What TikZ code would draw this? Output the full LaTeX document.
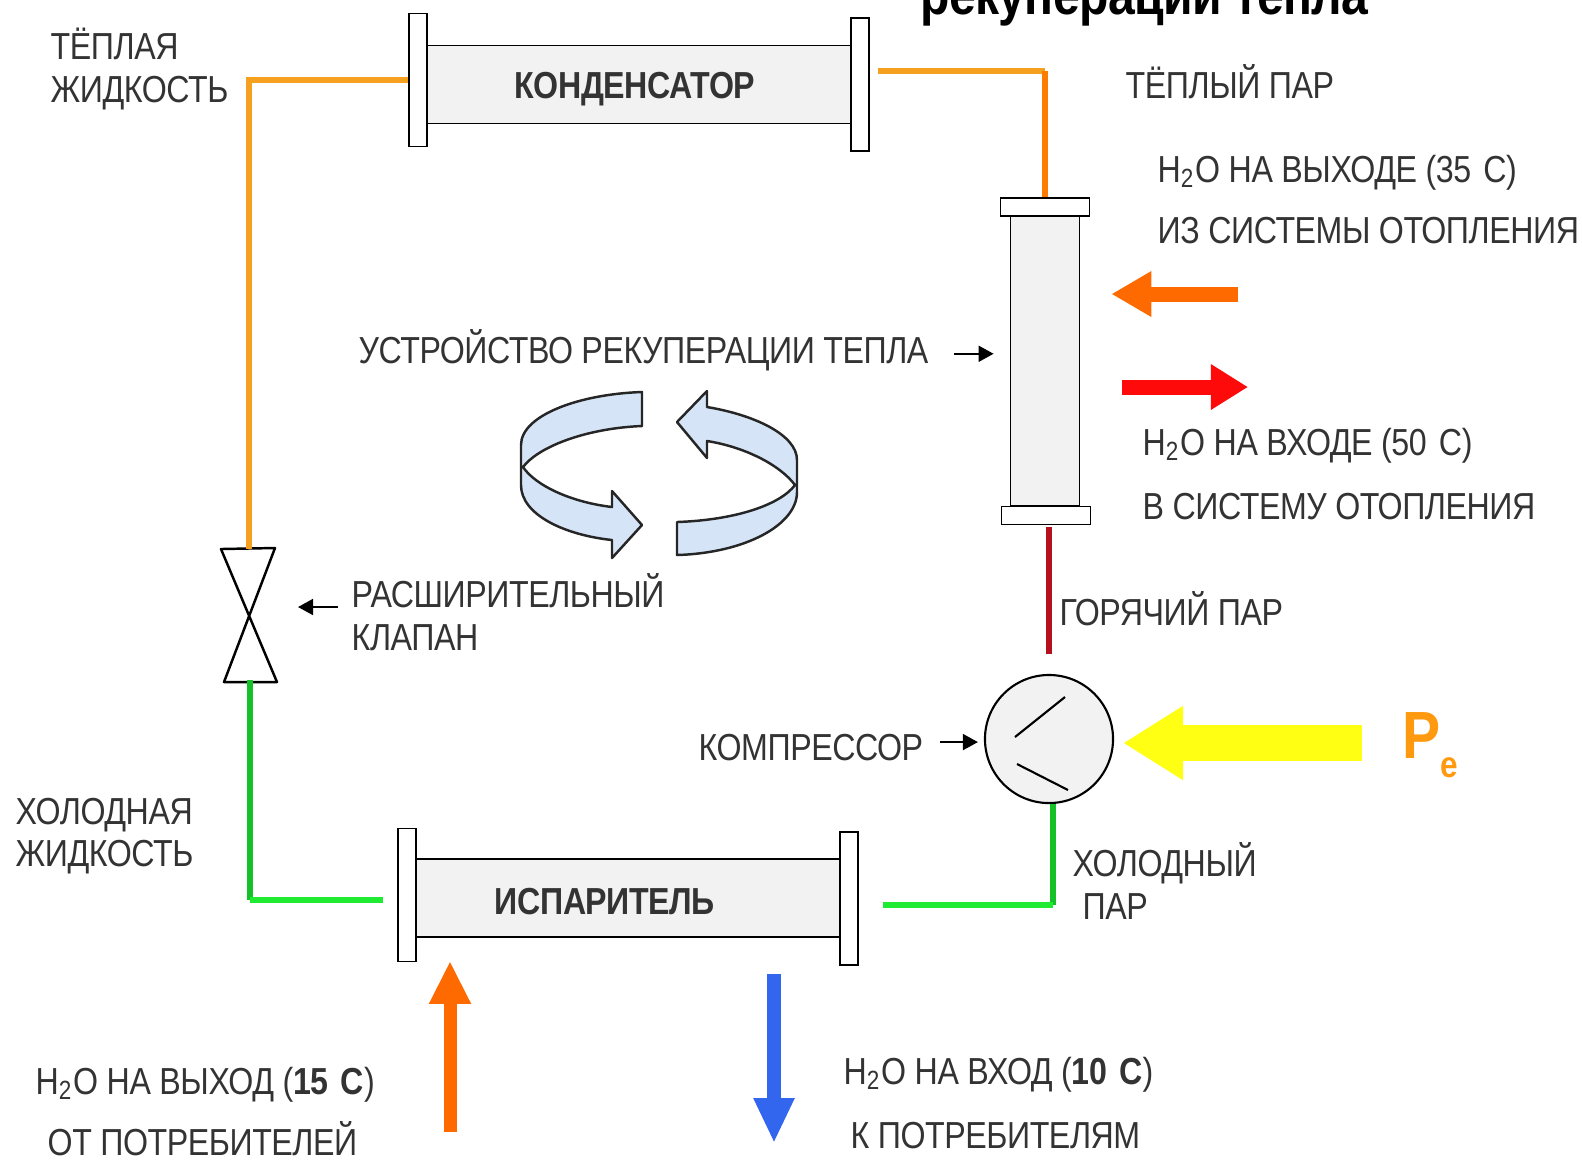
\documentclass[tikz,border=0pt]{standalone}
\usepackage{fontspec}
\setmainfont{Liberation Sans}[FakeStretch=0.855,LetterSpace=-1.2]
\usetikzlibrary{positioning,arrows.meta,calc}
\definecolor{bodygrey}{HTML}{F2F2F2}
\definecolor{labeltext}{HTML}{333333}
\definecolor{warmpipe}{HTML}{F5A01E}
\definecolor{warmvert}{HTML}{FF7A00}
\definecolor{hotpipe}{HTML}{B5101E}
\definecolor{coldpipe}{HTML}{14C228}
\definecolor{coldbright}{HTML}{1EEB32}
\definecolor{cycleblue}{HTML}{D6E4F7}
\definecolor{waterorange}{HTML}{FF6A00}
\definecolor{waterblue}{HTML}{3366EE}
\definecolor{waterred}{HTML}{FF0A0A}
\definecolor{powerorange}{HTML}{FF9A10}
\definecolor{poweryellow}{HTML}{FFFF14}

\begin{document}
\begin{tikzpicture}[
  x=0.01cm,y=-0.01cm,
  font=\fontsize{10.7}{12.1}\selectfont,
  lbl/.style={text=labeltext,inner sep=0pt,anchor=base west},
  lblblock/.style={text=labeltext,inner sep=0pt,anchor=west,align=left},
  bodyh/.style={rectangle,draw=black,line width=0.5pt,fill=bodygrey,minimum width=4.24cm,minimum height=0.78cm,inner sep=0pt,text height=0.27cm,text depth=0pt,font=\fontsize{10.7}{12.1}\selectfont\bfseries,text=labeltext},
  flangeh/.style={rectangle,draw=black,line width=0.5pt,fill=white,minimum width=0.18cm,minimum height=1.33cm,inner sep=0pt},
  bodyv/.style={rectangle,draw=black,line width=0.5pt,fill=bodygrey,minimum width=0.69cm,minimum height=2.9cm,inner sep=0pt},
  flangev/.style={rectangle,draw=black,line width=0.5pt,fill=white,minimum width=0.89cm,minimum height=0.18cm,inner sep=0pt},
  pipe/.style={line width=0.065cm},
  ptr/.style={-{Triangle[length=0.15cm,width=0.16cm]},line width=0.5pt,black},
  cyclearr/.style={draw=black!85,line width=0.7pt,fill=cycleblue,line join=round},
]
\useasboundingbox (0,0) rectangle (1582,1159);

% Condenser
\node[bodyh] (condbody) at (639,84.5) {\hspace*{-0.08cm}КОНДЕНСАТОР};
\node[flangeh] (condL) at (418,80) {};
\node[flangeh] (condR) at (860,84.5) {};

% Evaporator
\node[bodyh] (evapbody) at (628,898) {\hspace*{-0.46cm}\raisebox{-0.03cm}{ИСПАРИТЕЛЬ}};
\node[flangeh] (evapL) at (407,895) {};
\node[flangeh] (evapR) at (849,898.5) {};

% Heat recovery unit
\node[bodyv] (recbody) at (1045,361) {};
\node[flangev] (recT) at (1045,207) {};
\node[flangev] (recB) at (1046,515.5) {};

% Compressor
\node[circle,draw=black,line width=0.6pt,fill=bodygrey,minimum size=1.28cm,inner sep=0pt] (comp) at (1049,739) {};
\draw[line width=0.6pt] (1065,697) -- (1015,737);
\draw[line width=0.6pt] (1017,764) -- (1068,790);

% Valve
\coordinate (valvetop) at (249,549);
\coordinate (valvemid) at (250,615);
\coordinate (valvebot) at (250,682);
\draw[line width=0.7pt,line join=round] (221,549) -- (275,548) -- (224,682) -- (277,682) -- cycle;

% Pipes
\coordinate (warmcorner) at (1045,71);
\coordinate (coldcorner) at (1053,905);
\coordinate (coldleft) at (250,900);
\draw[pipe,warmpipe] (condL.west) -| (valvetop);
\draw[pipe,warmpipe,shorten <=0.08cm] (condR.east |- warmcorner) -- (warmcorner);
\draw[pipe,warmvert,line cap=square] (warmcorner) -- (recT.north);
\draw[pipe,hotpipe,shorten >=0.2cm,shorten <=0.02cm] (comp.north |- recB.south) -- (comp.north);
\draw[pipe,coldpipe] (coldcorner |- comp.south) -- (coldcorner);
\draw[pipe,coldbright,shorten >=0.24cm] (coldcorner) -- (evapR.east |- coldcorner);
\draw[pipe,coldpipe,line cap=square] ([yshift=0.02cm]valvebot) -- (coldleft);
\draw[pipe,coldbright,shorten >=0.14cm] (coldleft) -- (evapL.west |- coldleft);

% Water and power arrows
\coordinate (recin) at (1238,294);
\coordinate (recout) at (1248,387);
\coordinate (powerin) at (1362,743);
\coordinate (evapin) at (450,1132);
\coordinate (evapout) at (774,1143);
\draw[line width=0.15cm,waterorange,-{Triangle[length=0.4cm,width=0.43cm]},shorten >=0.31cm] (recin) -- (recbody.east |- recin);
\draw[line width=0.15cm,waterred,-{Triangle[length=0.37cm,width=0.43cm]},shorten <=0.42cm] (recbody.east |- recout) -- (recout);
\draw[line width=0.36cm,poweryellow,-{Triangle[length=0.6cm,width=0.7cm]},shorten >=0.09cm] (powerin) -- (comp.east |- powerin);
\draw[line width=0.13cm,waterorange,-{Triangle[length=0.43cm,width=0.39cm]},shorten >=0.23cm] (evapin) -- (evapbody.south -| evapin);
\draw[line width=0.14cm,waterblue,-{Triangle[length=0.45cm,width=0.38cm]},shorten <=0.36cm] (evapbody.south -| evapout) -- (evapout);

% Cycle sign
\draw[cyclearr] (642,392) .. controls (580,394) and (521,415) .. (521,445) -- (521,485)
  .. controls (521,515) and (565,535) .. (612,540) -- (612,558) -- (642,525) -- (612,491) -- (612,507)
  .. controls (570,502) and (535,485) .. (523,467) .. controls (540,445) and (590,428) .. (642,426) -- cycle;
\draw[cyclearr] (677,522) -- (677,555) .. controls (745,553) and (797,525) .. (797,492) -- (797,460)
  .. controls (797,435) and (755,415) .. (707,407) -- (707,391) -- (677,422) -- (707,458) -- (707,441)
  .. controls (745,447) and (780,465) .. (795,485) .. controls (780,505) and (735,520) .. (677,522) -- cycle;

% Labels
\node[lbl,font=\fontsize{16}{18}\selectfont\bfseries,text=black] (title) at (920,14) {рекуперации тепла};
\node[lblblock] (lblwarmliq) at (50,69) {ТЁПЛАЯ\\ЖИДКОСТЬ};
\node[lbl] (lblwarmvap) at (1125,98) {ТЁПЛЫЙ ПАР};
\node[lbl] (lblout35) at (1157,182) {H\textsubscript{2}O НА ВЫХОДЕ (35\ \hspace{0.1em}С)};
\node[lbl] (lblfrom) at (1157,243) {ИЗ СИСТЕМЫ ОТОПЛЕНИЯ};
\node[lbl] (lblrec) at (358,363) {УСТРОЙСТВО РЕКУПЕРАЦИИ ТЕПЛА};
\node[lbl] (lblin50) at (1142,455) {H\textsubscript{2}O НА ВХОДЕ (50\ \hspace{0.1em}С)};
\node[lbl] (lblto) at (1142,519) {В СИСТЕМУ ОТОПЛЕНИЯ};
\node[lblblock] (lblvalve) at (351,612) {РАСШИРИТЕЛЬНЫЙ\\КЛАПАН};
\node[lbl] (lblhot) at (1059,625) {ГОРЯЧИЙ ПАР};
\node[lbl] (lblcomp) at (698,760) {КОМПРЕССОР};
\node[lbl,font=\fontsize{19}{20}\selectfont\bfseries,text=powerorange] (lblpower) at (1402,758) {P{\fontsize{10.5}{11}\selectfont\raisebox{-0.19cm}{e}}};
\node[lblblock] (lblcoldliq) at (15,836) {ХОЛОДНАЯ\\ЖИДКОСТЬ};
\node[lblblock] (lblcoldvap) at (1072,881) {ХОЛОДНЫЙ\\\hspace*{0.1cm}ПАР};
\node[lbl] (lblout15) at (35,1094) {H\textsubscript{2}O НА ВЫХОД ({\bfseries 15\ \hspace{0.1em}С})};
\node[lbl] (lblfromuse) at (47,1155) {ОТ ПОТРЕБИТЕЛЕЙ};
\node[lbl] (lblin10) at (843,1084) {H\textsubscript{2}O НА ВХОД ({\bfseries 10\ \hspace{0.1em}С})};
\node[lbl] (lbltouse) at (850,1148) {К ПОТРЕБИТЕЛЯМ};

% Pointers
\draw[ptr,shorten <=0.25cm,shorten >=0.16cm] ([yshift=-0.04cm]lblrec.east) -- ([yshift=-0.04cm]lblrec.east -| recbody.west);
\draw[ptr,shorten <=0.13cm,shorten >=0.48cm] ([yshift=0.05cm]lblvalve.west) -- ([yshift=0.05cm]lblvalve.west -| valvemid);
\draw[ptr,shorten <=0.16cm,shorten >=0.06cm] ([yshift=0.05cm]lblcomp.east) -- ([yshift=0.05cm]lblcomp.east -| comp.west);
\end{tikzpicture}
\end{document}
